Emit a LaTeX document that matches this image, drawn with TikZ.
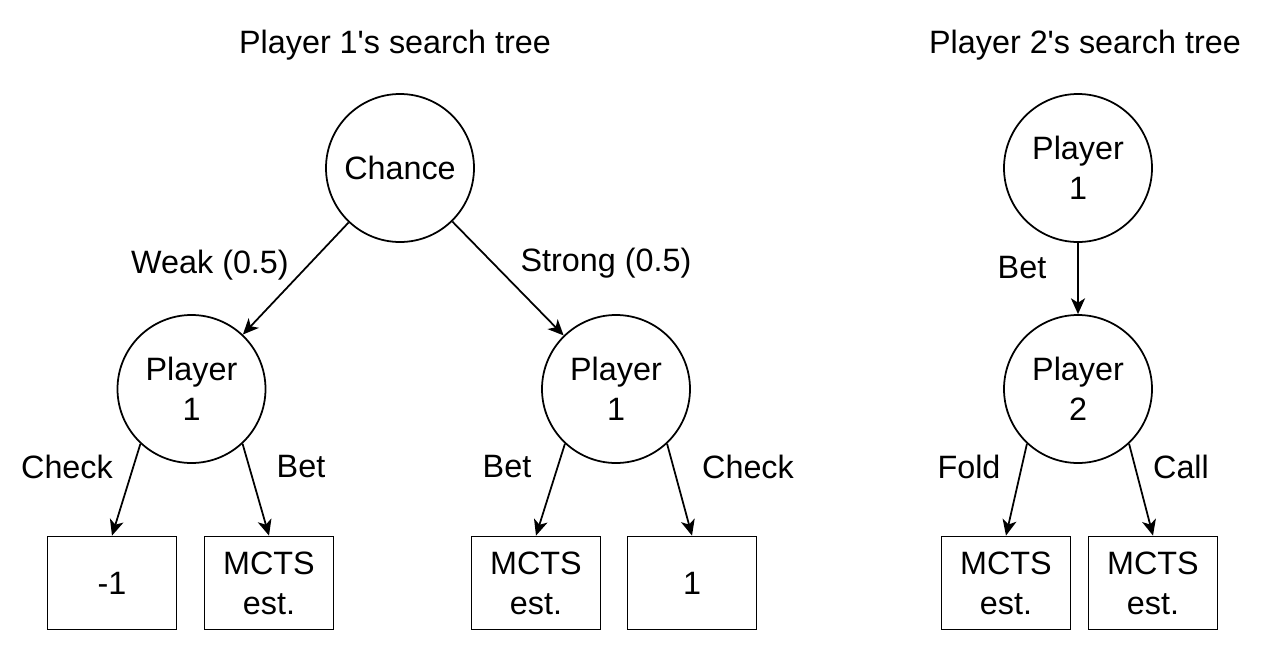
\documentclass[tikz,border=0pt]{standalone}
\usepackage{fontspec}
\setmainfont{Liberation Sans}
\usetikzlibrary{arrows.meta}

\begin{document}
\begin{tikzpicture}[
    every node/.style={font=\fontsize{18.4}{22.7}\selectfont, align=center},
    state/.style={draw, circle, line width=1pt, minimum size=2.96cm, inner sep=0pt},
    leaf/.style={draw, rectangle, line width=1pt, minimum width=2.58cm, minimum height=1.86cm, inner sep=0pt},
    edge/.style={line width=1pt, -{Stealth[length=9pt, width=8pt, inset=2.5pt]}}
  ]
    \useasboundingbox (0,0) rectangle (25.4,-13.16);

    % titles
    \node (title1) at (7.9,-0.9) {Player 1\textquotesingle s search tree};
    \node (title2) at (21.7,-0.9) {Player 2\textquotesingle s search tree};

    % player 1's tree
    \node[state] (chance) at (8,-3.36) {Chance};
    \node[state] (weak) at (3.83,-7.78) {Player\\1};
    \node[state] (strong) at (12.32,-7.78) {Player\\1};
    \node[leaf] (wcheck) at (2.24,-11.66) {-1};
    \node[leaf] (wbet) at (5.38,-11.66) {MCTS\\est.};
    \node[leaf] (sbet) at (10.72,-11.66) {MCTS\\est.};
    \node[leaf] (scheck) at (13.84,-11.66) {1};

    \draw[edge] (chance) -- (weak);
    \draw[edge] (chance) -- (strong);
    \draw[edge] (weak.-133) -- (wcheck.north);
    \draw[edge] (weak.-47) -- (wbet.north);
    \draw[edge] (strong.-133) -- (sbet.north);
    \draw[edge] (strong.-47) -- (scheck.north);

    \node (lweak) at (4.2,-5.3) {Weak (0.5)};
    \node (lstrong) at (12.12,-5.26) {Strong (0.5)};
    \node (lwcheck) at (1.34,-9.33) {Check};
    \node (lwbet) at (6.02,-9.33) {Bet};
    \node (lsbet) at (10.14,-9.33) {Bet};
    \node (lscheck) at (14.96,-9.33) {Check};

    % player 2's tree
    \node[state] (top) at (21.56,-3.36) {Player\\1};
    \node[state] (reply) at (21.56,-7.78) {Player\\2};
    \node[leaf] (fold) at (20.12,-11.66) {MCTS\\est.};
    \node[leaf] (call) at (23.06,-11.66) {MCTS\\est.};

    \draw[edge] (top) -- (reply);
    \draw[edge] (reply.-133) -- (fold.north);
    \draw[edge] (reply.-47) -- (call.north);

    \node (lbet) at (20.44,-5.36) {Bet};
    \node (lfold) at (19.38,-9.33) {Fold};
    \node (lcall) at (23.62,-9.33) {Call};
\end{tikzpicture}
\end{document}
